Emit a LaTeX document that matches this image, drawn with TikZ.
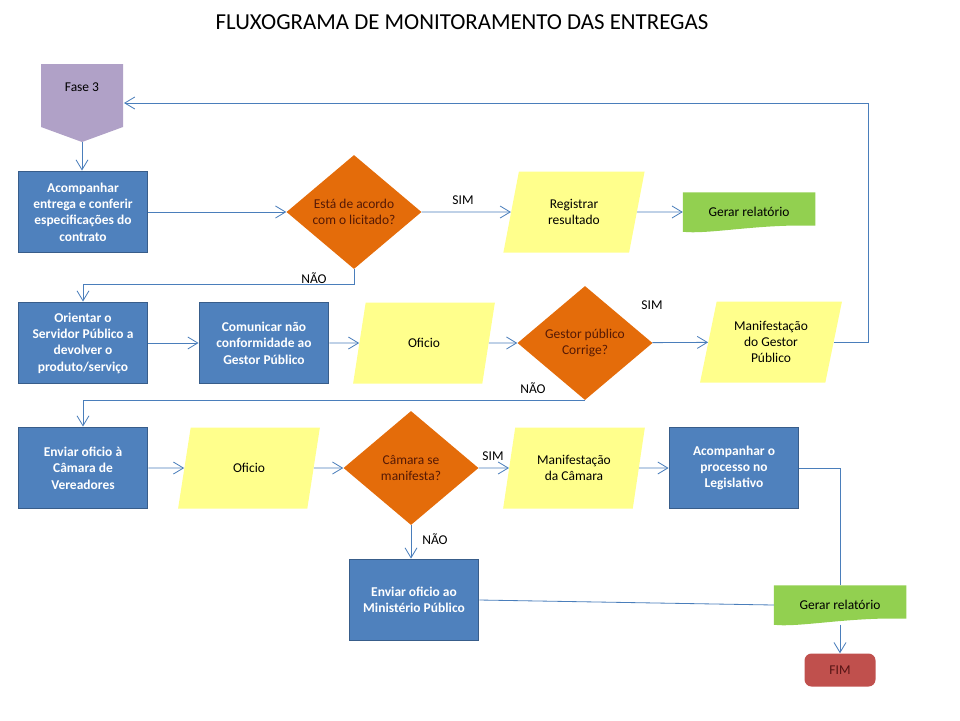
\documentclass[tikz,border=0pt]{standalone}
\usepackage{fontspec}
\setmainfont{Carlito}
\usetikzlibrary{shapes.geometric}
\usetikzlibrary{arrows.meta}
\usetikzlibrary{calc,backgrounds}

\definecolor{linha}{RGB}{74,126,187}
\definecolor{azul}{RGB}{79,129,189}
\definecolor{azulborda}{RGB}{56,93,138}
\definecolor{amarelo}{RGB}{255,255,140}
\definecolor{laranja}{RGB}{228,108,10}
\definecolor{marrom}{RGB}{85,25,5}
\definecolor{verde}{RGB}{146,208,80}
\definecolor{vermelho}{RGB}{192,80,77}
\definecolor{vinho}{RGB}{85,20,20}
\definecolor{lilas}{RGB}{176,161,199}

\begin{document}
\begin{tikzpicture}[x=0.03cm, y=-0.03cm,
  >={Straight Barb[length=3mm,width=3.6mm]},
  conn/.style={linha, line width=0.7pt},
  lbl/.style={font=\fontsize{11.5}{14}\selectfont},
  proc/.style={rectangle, fill=azul, draw=azulborda, line width=1.6pt, text=white,
    font=\bfseries\fontsize{11.5}{14}\selectfont, align=center,
    minimum width=3.87cm, minimum height=2.43cm, inner sep=2pt},
  dec/.style={diamond, fill=laranja, text=marrom, font=\fontsize{11.5}{14}\selectfont,
    align=center, minimum width=4.05cm, minimum height=3.42cm, inner sep=0pt},
  io/.style={trapezium, trapezium left angle=76, trapezium right angle=104,
    trapezium stretches=true, fill=amarelo, align=center,
    font=\fontsize{11.5}{14}\selectfont, minimum width=4.26cm, minimum height=2.43cm},
  doc/.style={rectangle, font=\fontsize{11.5}{14}\selectfont,
    minimum width=3.96cm, minimum height=1.17cm},
  fimbox/.style={rectangle, rounded corners=6pt, fill=vermelho, text=vinho,
    font=\fontsize{11.5}{14}\selectfont, minimum width=2.13cm, minimum height=0.99cm}
]
\useasboundingbox (0,0) rectangle (960,720);

\node[font=\fontsize{19.5}{23}\selectfont] (titulo) at (462,22) {FLUXOGRAMA DE MONITORAMENTO DAS ENTREGAS};

% fase 3
\fill[lilas] (41,64) -- (123,64) -- (123,127) -- (82,142) -- (41,127) -- cycle;
\node[lbl] (fase) at (82,87) {Fase 3};
\coordinate (faseS) at (82,142);
\coordinate (faseE) at (124,103);

% linha 1
\node[proc] (b1) at (83,212) {Acompanhar\\entrega e conferir\\especificações do\\contrato};
\node[dec] (d1) at (354,212) {Está de acordo\\com o licitado?};
\node[io] (reg) at (574,212) {Registrar\\resultado};
\node[doc] (ger1) at (749,212) {Gerar relatório};

% linha 2
\node[proc] (b2) at (83,343) {Orientar o\\Servidor Público a\\devolver o\\produto/serviço};
\node[proc] (b3) at (264,343) {Comunicar não\\conformidade ao\\Gestor Público};
\node[io] (of1) at (424,343) {Oficio};
\node[dec] (d2) at (585,343) {Gestor público\\Corrige?};
\node[io] (man1) at (771,342) {Manifestação\\do Gestor\\Público};

% linha 3
\node[proc] (b4) at (83,468) {Enviar oficio à\\Câmara de\\Vereadores};
\node[io] (of2) at (249,468) {Oficio};
\node[dec] (d3) at (411,468) {Câmara se\\manifesta?};
\node[io] (man2) at (574,468) {Manifestação\\da Câmara};
\node[proc] (b5) at (734,468) {Acompanhar o\\processo no\\Legislativo};
\node[proc] (b6) at (414,600) {Enviar oficio ao\\Ministério Público};
\node[doc] (ger2) at (840,605) {Gerar relatório};
\node[fimbox] (fim) at (840,670) {FIM};

\begin{scope}[on background layer]
\foreach \g in {ger1,ger2}
 \fill[verde] (\g.north west) -- (\g.north east) -- ($(\g.south east)+(0,-6)$)
   .. controls ($(\g.south)+(10,-8)$) and ($(\g.south west)+(25,3)$) .. (\g.south west) -- cycle;
\end{scope}

% rotulos
\node[lbl] (sim1) at (463,200) {SIM};
\node[lbl] (nao1) at (314,278) {NÃO};
\node[lbl] (sim2) at (652,305) {SIM};
\node[lbl] (nao2) at (533,388) {NÃO};
\node[lbl] (sim3) at (493,456) {SIM};
\node[lbl] (nao3) at (435,539) {NÃO};

% conectores
\draw[conn,->] (faseS) -- (faseS |- b1.north);
\draw[conn,->] (b1) -- (d1);
\draw[conn,->] (d1) -- (reg);
\draw[conn,->] (reg) -- (ger1);
\draw[conn,->] (d1.south) -- ++(0,15) -| (b2.north);
\draw[conn,->] (b2) -- (b3);
\draw[conn,->] (b3) -- (of1);
\draw[conn,->] (of1) -- (d2);
\draw[conn,->] (d2) -- (man1);
\draw[conn,->] (man1.east) -- ++(35,0) |- (faseE);
\draw[conn,->] (d2.south) -| (b4.north);
\draw[conn,->] (b4) -- (of2);
\draw[conn,->] (of2) -- (d3);
\draw[conn,->] (d3) -- (man2);
\draw[conn,->] (man2) -- (b5);
\draw[conn] (b5.east) -| (ger2.north);
\draw[conn,->] (d3.south) -- (d3.south |- b6.north);
\draw[conn] (b6.east) -- (ger2.west);
\draw[conn,->] (ger2) -- (fim);
\end{tikzpicture}
\end{document}
